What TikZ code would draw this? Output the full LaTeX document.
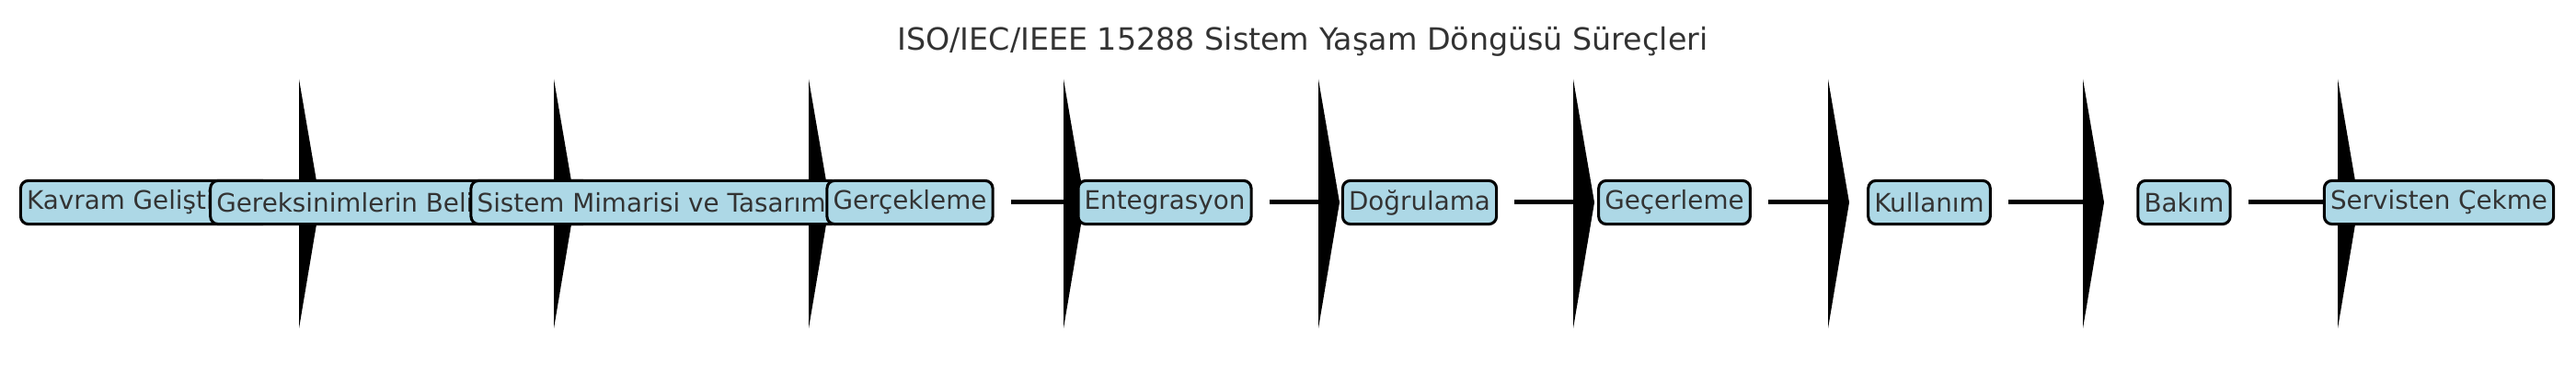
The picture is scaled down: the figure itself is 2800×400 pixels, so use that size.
\documentclass[tikz,border=0pt]{standalone}
\usepackage{fontspec}
\setmainfont{DejaVu Sans}
\usetikzlibrary{backgrounds}
\definecolor{boxblue}{HTML}{ADD8E6}
\definecolor{txtgray}{HTML}{333333}
\tikzset{
  stage/.style={draw=black,line width=1.1pt,fill=boxblue,rounded corners=3pt,
    text=txtgray,font=\fontsize{10}{12}\selectfont,inner sep=2.4pt,minimum height=17pt},
  shaft/.style={line width=1.8pt},
  head/.style={fill=black}
}
\begin{document}
\begin{tikzpicture}[x=0.36pt,y=-0.36pt]
\useasboundingbox (0,0) rectangle (2800,400);

% Title
\node[text=txtgray,font=\fontsize{12}{14}\selectfont] (title) at (1416,45)
  {ISO/IEC/IEEE 15288 Sistem Yaşam Döngüsü Süreçleri};

% Stages
\foreach \lbl [count=\i from 0] in {Kavram Geliştirme,Gereksinimlerin Belirlenmesi,
  Sistem Mimarisi ve Tasarımı,Gerçekleme,Entegrasyon,Doğrulama,Geçerleme,
  Kullanım,Bakım,Servisten Çekme}
  \node[stage] (p\i) at (158+277*\i,220) {\lbl};

% Arrows, behind the stages
\begin{scope}[on background layer]
\foreach \i in {0,...,8}{
  \coordinate (a\i) at (325+277*\i,220);
  \draw[shaft] ([xshift=6.5pt]p\i.east) -- (a\i);
  \fill[head] (a\i) ++(0,-134) -- ++(23,134) -- ++(-23,137) -- cycle;
}
\end{scope}

\end{tikzpicture}
\end{document}
